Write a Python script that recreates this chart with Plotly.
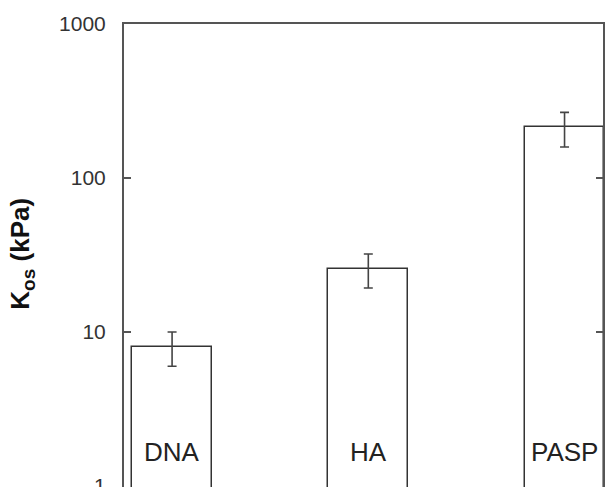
import plotly.graph_objects as go

categories = ["DNA", "HA", "PASP"]
kos_values = [8.0, 25.7, 213.0]
kos_errors = [2.0, 6.4, 54.0]
tick_vals = [1, 10, 100, 1000]
tick_text = ["1", "10", "100", "1000"]

xpos = list(range(len(categories)))

fig = go.Figure()
fig.add_trace(go.Bar(
    x=xpos, y=kos_values, width=0.406,
    marker=dict(color="white", line=dict(color="#333333", width=1.5)),
    error_y=dict(type="data", array=kos_errors, visible=True,
                 color="#444444", thickness=1.6, width=4.5),
    showlegend=False, hoverinfo="skip",
))

for i, name in enumerate(categories):
    fig.add_annotation(x=i, y=0.22, xref="x", yref="y", text=name,
                       showarrow=False, xanchor="center", yanchor="middle",
                       font=dict(family="Liberation Sans, Arial", size=26, color="#222222"))

fig.add_annotation(xref="paper", yref="paper", x=-0.214, y=0.505,
                   text="<b>K<sub><span style='font-size:19px'>os</span></sub> (kPa)</b>",
                   textangle=-90,
                   showarrow=False, xanchor="center", yanchor="middle",
                   font=dict(family="Liberation Sans, Arial", size=26, color="#111111"))

fig.update_layout(
    width=607, height=487,
    margin=dict(l=124, r=4, t=24, b=0, autoexpand=False),
    paper_bgcolor="white", plot_bgcolor="white",
    bargap=0,
)
fig.update_xaxes(range=[-0.245, 2.196], showticklabels=False, ticks="",
                 showgrid=False, zeroline=False, showline=True, automargin=False,
                 linecolor="#555555", linewidth=2, mirror=True)
fig.update_yaxes(type="log", range=[-0.006, 3], tickvals=tick_vals, ticktext=tick_text,
                 ticks="inside", ticklen=7, tickwidth=2, tickcolor="#555555",
                 showgrid=False, zeroline=False, showline=True, automargin=False,
                 linecolor="#555555", linewidth=2, mirror="ticks",
                 ticklabelstandoff=12, ticklabeloverflow="allow",
                 tickfont=dict(family="Liberation Sans, Arial", size=21, color="#333333"))

fig.write_html("out.html", config={"displayModeBar": False},
               post_script="document.body.style.margin='0';document.body.style.overflow='hidden';")
